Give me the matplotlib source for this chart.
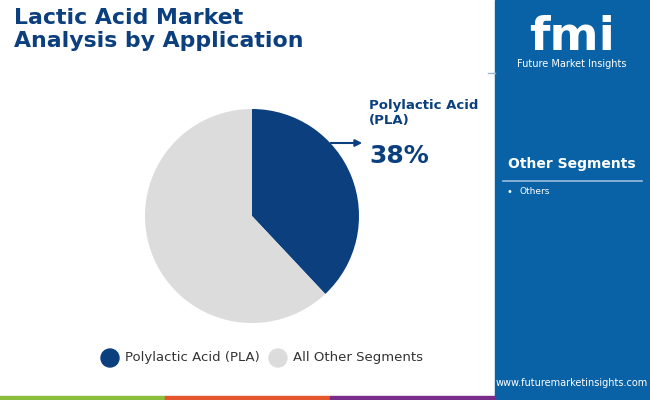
import matplotlib
matplotlib.use("Agg")
import matplotlib.pyplot as plt
from matplotlib.patches import Rectangle, Circle

categories = ["Polylactic Acid (PLA)", "All Other Segments"]
values = [38, 62]
colors = ["#0b3f7e", "#dcdcdc"]
other_segments = ["Others"]

W, H = 650, 400
fig = plt.figure(figsize=(6.5, 4.0), dpi=100)

r = 107
cx, cy = 252, 216
ax = fig.add_axes([(cx - r) / W, 1 - (cy + r) / H, 2 * r / W, 2 * r / H], zorder=0)
ax.pie(values, colors=colors, startangle=90, counterclock=False,
       wedgeprops=dict(linewidth=0))
ax.set_aspect("auto")
ax.set_xlim(-1, 1); ax.set_ylim(-1, 1)

bg = fig.add_axes([0, 0, 1, 1], zorder=1)
bg.patch.set_alpha(0)
bg.set_xlim(0, W); bg.set_ylim(H, 0); bg.axis("off")

bg.add_patch(Rectangle((495, 0), 155, 400, color="#0a62a6", zorder=0))
bg.plot([488, 495], [73, 73], color="#9bb7d4", lw=1)
for x0, c in [(0, "#8bbd3e"), (165, "#e4572e"), (330, "#7b2d8b")]:
    bg.add_patch(Rectangle((x0, 396), 165, 4, color=c, zorder=1))

bg.text(14, 8, "Lactic Acid Market\nAnalysis by Application", fontsize=15.8,
        fontweight="bold", color="#0b3f7e", va="top", linespacing=1.2)

bg.text(572, 38, "fmi", fontsize=34, fontweight="bold", color="white", ha="center", va="center")
bg.text(572, 64, "Future Market Insights", fontsize=7, color="white", ha="center", va="center")
bg.text(572, 164, "Other Segments", fontsize=10, fontweight="bold", color="white", ha="center", va="center")
bg.plot([503, 642], [181, 181], color="#9bbde0", lw=1.2)
for i, s in enumerate(other_segments):
    bg.text(506, 192 + i * 14, "•", fontsize=7, color="white", va="center")
    bg.text(519, 192 + i * 14, s, fontsize=6.5, color="white", va="center")
bg.text(572, 383, "www.futuremarketinsights.com", fontsize=7, color="white", ha="center", va="center")

bg.annotate("", xy=(365, 143), xytext=(328, 143),
            arrowprops=dict(arrowstyle="-|>", color="#0b3f7e", lw=1.5, mutation_scale=10))
bg.text(369, 113, "Polylactic Acid\n(PLA)", fontsize=9.5, fontweight="bold", color="#0b3f7e", va="center", linespacing=1.15)
bg.text(369, 156, f"{values[0]}%", fontsize=18, fontweight="bold", color="#0b3f7e", va="center")

lx = [110, 278]
for x, c, lab in zip(lx, colors, categories):
    bg.add_patch(Circle((x, 358), 9, color=c))
    bg.text(x + 15, 358, lab, fontsize=9.5, color="#333333", va="center")

fig.savefig("out.png", dpi=100)
